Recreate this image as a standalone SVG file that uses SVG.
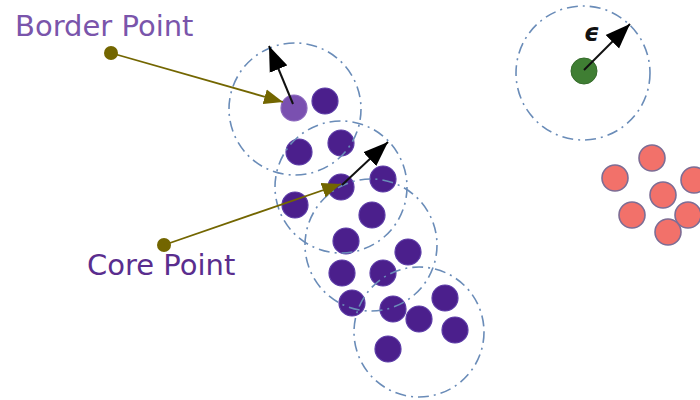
<svg xmlns="http://www.w3.org/2000/svg" width="700" height="400" viewBox="0 0 700 400">
  <style>
    .label { font-family: "DejaVu Sans", "Liberation Sans", sans-serif; font-size: 29px; }
    .pt { fill: #4b1f8c; stroke: #5b3aa6; stroke-width: 1.2; }
    .border-pt { fill: #7a50b0; stroke: #8a66bd; stroke-width: 1.2; }
    .noise { fill: #3f7e33; stroke: #356b2b; stroke-width: 1; }
    .other { fill: #f2716a; stroke: #7d6d95; stroke-width: 1.6; }
    .hood { fill: none; stroke: #6a8cb8; stroke-width: 1.6; stroke-dasharray: 11 5 2 5; }
    .anchor { fill: #736600; }
    .pointer { stroke: #736600; stroke-width: 1.8; fill: none; }
    .radius { stroke: #111; stroke-width: 2; fill: none; }
  </style>
  <defs>
    <marker id="headOlive" markerUnits="userSpaceOnUse" markerWidth="20" markerHeight="16" viewBox="0 0 20 16" refX="19" refY="8" orient="auto">
      <path d="M0,0.5 L19,8 L0,15.5 Z" fill="#736600"/>
    </marker>
    <marker id="headBlack" markerUnits="userSpaceOnUse" markerWidth="26" markerHeight="20" viewBox="0 0 26 20" refX="25" refY="10" orient="auto">
      <path d="M0,0.5 L25,10 L0,19.5 Z" fill="#000"/>
    </marker>
  </defs>

  <rect width="700" height="400" fill="#fff"/>

  <!-- cluster points -->
  <g id="cluster">
    <circle class="pt" cx="325" cy="101" r="13"/>
    <circle class="pt" cx="299" cy="152" r="13"/>
    <circle class="pt" cx="341" cy="143" r="13"/>
    <circle class="pt" cx="383" cy="179" r="13"/>
    <circle class="pt" cx="295" cy="205" r="13"/>
    <circle class="pt" cx="372" cy="215" r="13"/>
    <circle class="pt" cx="346" cy="241" r="13"/>
    <circle class="pt" cx="408" cy="252" r="13"/>
    <circle class="pt" cx="342" cy="273" r="13"/>
    <circle class="pt" cx="383" cy="273" r="13"/>
    <circle class="pt" cx="352" cy="303" r="13"/>
    <circle class="pt" cx="393" cy="309" r="13"/>
    <circle class="pt" cx="419" cy="319" r="13"/>
    <circle class="pt" cx="445" cy="298" r="13"/>
    <circle class="pt" cx="455" cy="330" r="13"/>
    <circle class="pt" cx="388" cy="349" r="13"/>
  </g>

  <g id="core-point">
    <circle class="pt" cx="341" cy="187" r="13"/>
  </g>

  <g id="border-point">
    <circle class="border-pt" cx="294" cy="108" r="13"/>
  </g>

  <g id="noise-point">
    <circle class="noise" cx="584" cy="71" r="13"/>
  </g>

  <g id="second-cluster">
    <circle class="other" cx="652" cy="158" r="13"/>
    <circle class="other" cx="615" cy="178" r="13"/>
    <circle class="other" cx="694" cy="180" r="13"/>
    <circle class="other" cx="663" cy="195" r="13"/>
    <circle class="other" cx="632" cy="215" r="13"/>
    <circle class="other" cx="688" cy="215" r="13"/>
    <circle class="other" cx="668" cy="232" r="13"/>
  </g>

  <!-- epsilon neighbourhoods -->
  <g id="neighbourhoods">
    <circle class="hood" cx="295" cy="109" r="66"/>
    <circle class="hood" cx="341" cy="187" r="66"/>
    <circle class="hood" cx="371" cy="245" r="66"/>
    <circle class="hood" cx="419" cy="332" r="65"/>
    <circle class="hood" cx="583" cy="73" r="67"/>
  </g>

  <g id="label-border">
    <circle class="anchor" cx="111" cy="53" r="7"/>
    <text class="label" x="15" y="36" fill="#7a55ab">Border Point</text>
  </g>

  <g id="label-core">
    <circle class="anchor" cx="164" cy="245" r="7"/>
    <text class="label" x="87" y="275" fill="#5a2d8e">Core Point</text>
  </g>

  <g id="label-epsilon">
    <text x="584" y="41" font-family="'DejaVu Sans', 'Liberation Sans', sans-serif" font-style="italic" font-weight="bold" font-size="24" fill="#111">ϵ</text>
  </g>

  <!-- connectors -->
  <g id="connectors">
    <line class="pointer" x1="111" y1="53" x2="283" y2="102" marker-end="url(#headOlive)"/>
    <line class="pointer" x1="164" y1="245" x2="341" y2="184" marker-end="url(#headOlive)"/>
    <line class="radius" x1="293" y1="104" x2="269" y2="46" marker-end="url(#headBlack)"/>
    <line class="radius" x1="342" y1="185" x2="388" y2="142" marker-end="url(#headBlack)"/>
    <line class="radius" x1="584" y1="70" x2="630" y2="24" marker-end="url(#headBlack)"/>
  </g>
</svg>
